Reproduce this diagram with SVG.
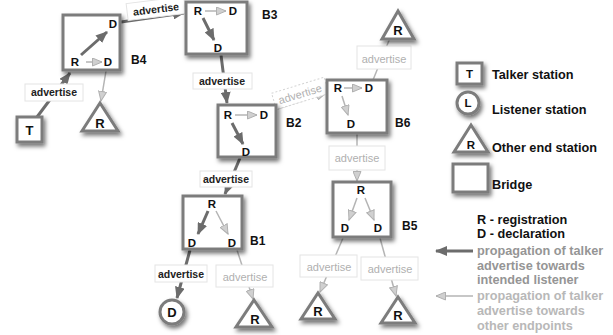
<svg xmlns="http://www.w3.org/2000/svg" width="613" height="335" viewBox="0 0 613 335">
  <defs>
    <style>
      .box { fill: #fff; stroke: #7c7c7c; stroke-width: 3; filter: url(#shadow); }
      .tag { fill: #fff; stroke: #e4e4e4; stroke-width: 1; }
      .tag-dash { fill: #fff; stroke: #d4d4d4; stroke-width: 1; stroke-dasharray: 2 2; }
      .t { font-family: "Liberation Sans", Arial, sans-serif; font-weight: bold; font-size: 11.5px; fill: #111; text-anchor: middle; }
      .big { font-size: 13px; }
      .name { font-family: "Liberation Sans", Arial, sans-serif; font-weight: bold; font-size: 12px; fill: #111; }
      .adv { font-family: "Liberation Sans", Arial, sans-serif; font-weight: bold; font-size: 10.5px; fill: #222; text-anchor: middle; }
      .adv-l { font-family: "Liberation Sans", Arial, sans-serif; font-size: 11px; fill: #b0b0b0; text-anchor: middle; }
      .dark { stroke: #6c6c6c; stroke-width: 3; fill: none; marker-end: url(#headDark); }
      .light { stroke: #b4b4b4; stroke-width: 1.5; fill: none; marker-end: url(#headLight); }
      .key { font-family: "Liberation Sans", Arial, sans-serif; font-weight: bold; font-size: 12.7px; }
    </style>
    <filter id="shadow" x="-30%" y="-30%" width="170%" height="170%">
      <feDropShadow dx="2" dy="3" stdDeviation="2" flood-color="#000" flood-opacity="0.55"/>
    </filter>
    <marker id="headDark" markerUnits="userSpaceOnUse" markerWidth="12" markerHeight="10" refX="11" refY="5" orient="auto">
      <path d="M0,0 L12,5 L0,10 Z" fill="#6c6c6c"/>
    </marker>
    <marker id="headLight" markerUnits="userSpaceOnUse" markerWidth="11" markerHeight="9" refX="10" refY="4.5" orient="auto">
      <path d="M0.5,0.5 L10,4.5 L0.5,8.5 Z" fill="#d0d0d0" stroke="#b0b0b0" stroke-width="1"/>
    </marker>
  </defs>

  <!-- connectors between stations and bridges -->
  <g id="connectors">
    <line class="dark" x1="37" y1="117" x2="70" y2="73"/>
    <line class="dark" x1="121" y1="22" x2="184" y2="13"/>
    <line class="light" x1="106" y1="71" x2="101" y2="101"/>
    <line class="dark" x1="221" y1="55" x2="227" y2="103"/>
    <line class="light" x1="277" y1="109" x2="326" y2="93"/>
    <line class="dark" x1="240" y1="158" x2="225" y2="194"/>
    <line stroke="#b4b4b4" stroke-width="1.5" x1="373" y1="80" x2="390" y2="38"/>
    <line class="light" x1="357" y1="134" x2="357" y2="181"/>
    <line class="dark" x1="190" y1="250" x2="177" y2="298"/>
    <line class="light" x1="237" y1="250" x2="253" y2="299"/>
    <line class="light" x1="343" y1="238" x2="320" y2="292"/>
    <line class="light" x1="380" y1="238" x2="396" y2="296"/>

    <!-- link labels -->
    <rect class="tag" x="25" y="84" width="58" height="17"/>
    <text class="adv" x="54" y="96">advertise</text>
    <g transform="rotate(-7 156 9)">
      <rect class="tag" x="127" y="0" width="58" height="17"/>
      <text class="adv" x="156" y="13">advertise</text>
    </g>
    <rect class="tag" x="193" y="73" width="59" height="16"/>
    <text class="adv" x="222" y="85">advertise</text>
    <g transform="rotate(-17 300 94)">
      <rect class="tag-dash" x="273" y="85" width="55" height="17"/>
      <text class="adv-l" x="300" y="98">advertise</text>
    </g>
    <rect class="tag" x="200" y="171" width="52" height="16"/>
    <text class="adv" x="226" y="183">advertise</text>
    <rect class="tag" x="357" y="46" width="54" height="23"/>
    <text class="adv-l" x="384" y="63">advertise</text>
    <rect class="tag" x="329" y="146" width="56" height="24"/>
    <text class="adv-l" x="357" y="162">advertise</text>
    <rect class="tag" x="155" y="265" width="52" height="17"/>
    <text class="adv" x="181" y="278">advertise</text>
    <rect class="tag" x="216" y="265" width="57" height="22"/>
    <text class="adv-l" x="245" y="281">advertise</text>
    <rect class="tag" x="300" y="255" width="57" height="22"/>
    <text class="adv-l" x="329" y="271">advertise</text>
    <rect class="tag" x="361" y="257" width="57" height="23"/>
    <text class="adv-l" x="390" y="273">advertise</text>
  </g>

  <!-- talker -->
  <g id="talker">
    <rect class="box" x="17" y="117" width="25" height="25"/>
    <text class="t big" x="29.5" y="134.5">T</text>
  </g>

  <!-- bridges with their internal registration / declaration flow -->
  <g id="B4">
    <rect class="box" x="63" y="15" width="57" height="55"/>
    <text class="t" x="113" y="28">D</text>
    <text class="t" x="75" y="66">R</text>
    <text class="t" x="108" y="66">D</text>
    <line class="dark" x1="81" y1="55" x2="107" y2="32"/>
    <line class="light" x1="86" y1="62" x2="102" y2="62"/>
    <text class="name" x="131" y="64">B4</text>
  </g>

  <g id="B3">
    <rect class="box" x="186" y="2" width="61" height="52"/>
    <text class="t" x="198" y="15">R</text>
    <text class="t" x="233" y="15">D</text>
    <text class="t" x="218" y="52">D</text>
    <line class="light" x1="205" y1="11" x2="226" y2="11"/>
    <line class="dark" x1="203" y1="18" x2="214" y2="40"/>
    <text class="name" x="262" y="19">B3</text>
  </g>

  <g id="B2">
    <rect class="box" x="218" y="105" width="58" height="52"/>
    <text class="t" x="228" y="119">R</text>
    <text class="t" x="264" y="119">D</text>
    <text class="t" x="246" y="156">D</text>
    <line class="light" x1="235" y1="115" x2="257" y2="115"/>
    <line class="dark" x1="232" y1="123" x2="243" y2="144"/>
    <text class="name" x="286" y="127">B2</text>
  </g>

  <g id="B6">
    <rect class="box" x="327" y="80" width="60" height="53"/>
    <text class="t" x="338" y="92">R</text>
    <text class="t" x="369" y="92">D</text>
    <text class="t" x="351" y="128">D</text>
    <line class="light" x1="344" y1="88" x2="362" y2="88"/>
    <line class="light" x1="342" y1="96" x2="348" y2="115"/>
    <text class="name" x="395" y="127">B6</text>
  </g>

  <g id="B1">
    <rect class="box" x="183" y="196" width="59" height="53"/>
    <text class="t" x="212" y="208">R</text>
    <text class="t" x="192" y="247">D</text>
    <text class="t" x="232" y="247">D</text>
    <line class="dark" x1="208" y1="211" x2="198" y2="234"/>
    <line class="light" x1="216" y1="211" x2="228" y2="234"/>
    <text class="name" x="250" y="245">B1</text>
  </g>

  <g id="B5">
    <rect class="box" x="333" y="182" width="58" height="55"/>
    <text class="t" x="361" y="194">R</text>
    <text class="t" x="345" y="232">D</text>
    <text class="t" x="378" y="232">D</text>
    <line class="light" x1="357" y1="198" x2="349" y2="220"/>
    <line class="light" x1="365" y1="198" x2="374" y2="220"/>
    <text class="name" x="402" y="230">B5</text>
  </g>

  <!-- end stations -->
  <g id="end-B4">
    <path class="box" d="M100,103 L118,131 L82,131 Z"/>
    <text class="t big" x="100" y="128">R</text>
  </g>
  <g id="end-B6">
    <path class="box" d="M398,11 L414,39 L382,39 Z"/>
    <text class="t big" x="398" y="35">R</text>
  </g>
  <g id="listener">
    <circle class="box" cx="172" cy="312" r="12"/>
    <text class="t big" x="172" y="317">D</text>
  </g>
  <g id="end-B1">
    <path class="box" d="M254,300 L272,327 L236,327 Z"/>
    <text class="t big" x="255" y="324">R</text>
  </g>
  <g id="end-B5a">
    <path class="box" d="M318,293 L335,319 L301,319 Z"/>
    <text class="t big" x="318" y="316">R</text>
  </g>
  <g id="end-B5b">
    <path class="box" d="M398,297 L415,323 L381,323 Z"/>
    <text class="t big" x="398" y="320">R</text>
  </g>

  <!-- legend -->
  <g id="legend">
    <rect class="box" x="457" y="63" width="25" height="21"/>
    <text class="t" x="469.5" y="78">T</text>
    <text class="key" x="492" y="79" fill="#111">Talker station</text>

    <circle class="box" cx="468" cy="103" r="11"/>
    <text class="t" x="468" y="107">L</text>
    <text class="key" x="492" y="114" fill="#111">Listener station</text>

    <path class="box" d="M471,125 L488,152 L454,152 Z"/>
    <text class="t" x="471" y="149">R</text>
    <text class="key" x="492" y="152" fill="#111">Other end station</text>

    <rect class="box" x="453" y="164" width="35" height="28"/>
    <text class="key" x="492" y="189" fill="#111">Bridge</text>

    <text class="key" x="477" y="224" fill="#111">R - registration</text>
    <text class="key" x="477" y="238" fill="#111">D - declaration</text>

    <line class="dark" x1="473" y1="251" x2="436" y2="251"/>
    <text class="key" x="477" y="255" fill="#959595">propagation of talker</text>
    <text class="key" x="477" y="270" fill="#959595">advertise towards</text>
    <text class="key" x="477" y="284" fill="#959595">intended listener</text>

    <line class="light" x1="473" y1="296" x2="436" y2="296"/>
    <text class="key" x="477" y="300" fill="#b8b8b8">propagation of talker</text>
    <text class="key" x="477" y="315" fill="#b8b8b8">advertise towards</text>
    <text class="key" x="477" y="330" fill="#b8b8b8">other endpoints</text>
  </g>
</svg>
